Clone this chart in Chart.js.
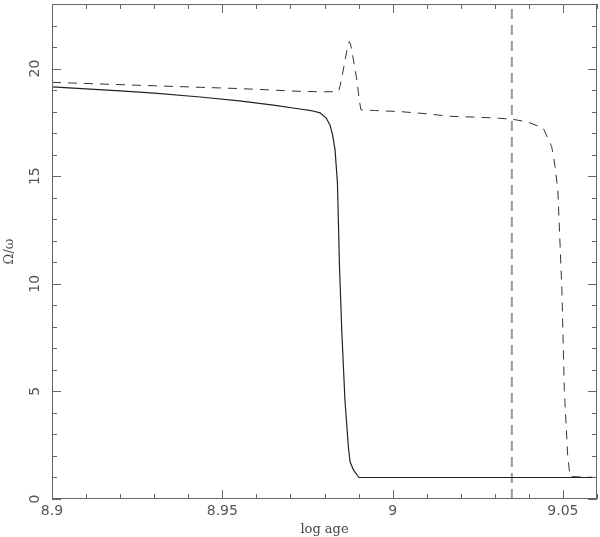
<!DOCTYPE html>
<html>
<head>
<meta charset="utf-8">
<script src="https://cdn.jsdelivr.net/npm/chart.js@4.4.0/dist/chart.umd.min.js"></script>
<style>
  html, body { margin: 0; padding: 0; background: #fff; }
</style>
</head>
<body>
<canvas id="chart" width="600" height="537"></canvas>
<script>
// solid curve: log age vs Omega/omega
let solidAge = [8.900, 8.910, 8.920, 8.930, 8.9435, 8.955, 8.965, 8.9728, 8.976, 8.9787, 8.9805, 8.9816, 8.9824, 8.9831, 8.9838, 8.9844, 8.9851, 8.9860, 8.9870, 8.9875, 8.9885, 8.9901, 9.060];
let solidOmega = [19.15, 19.06, 18.96, 18.86, 18.68, 18.50, 18.30, 18.12, 18.05, 17.94, 17.7, 17.38, 16.9, 16.22, 14.68, 10.8, 7.71, 4.6, 2.43, 1.73, 1.35, 1.0, 1.0];

// dashed curve
let dashedAge = [8.900, 8.915, 8.930, 8.9435, 8.955, 8.965, 8.9728, 8.980, 8.9841, 8.9846, 8.9855, 8.9865, 8.9869, 8.9873, 8.9877, 8.9885, 8.9895, 8.9902, 8.9907, 8.995, 9.0022, 9.010, 9.0169, 9.025, 9.0315, 9.0353, 9.0394, 9.0442, 9.0467, 9.0477, 9.0485, 9.0497, 9.0504, 9.0514, 9.0521, 9.060];
let dashedOmega = [19.36, 19.28, 19.2, 19.13, 19.07, 19.0, 18.94, 18.92, 18.93, 19.2, 19.93, 20.78, 21.1, 21.25, 21.1, 20.4, 19.47, 18.54, 18.08, 18.05, 18.0, 17.9, 17.78, 17.74, 17.69, 17.64, 17.53, 17.24, 16.37, 15.44, 14.36, 9.7, 5.1, 2.0, 1.04, 1.0];

// vertical marker
let markAge = [9.035, 9.035];
let markOmega = [0, 23];

let xTicks = [8.9, 8.95, 9, 9.05];
let xTickLabels = ['8.9', '8.95', '9', '9.05'];
let yTicks = [0, 5, 10, 15, 20];
let yTickLabels = ['0', '5', '10', '15', '20'];

function pts(xs, ys) {
  return xs.map((v, i) => ({ x: v, y: ys[i] }));
}

// box frame with inward ticks on all four sides
const frameTicks = {
  id: 'frameTicks',
  afterDraw(chart) {
    const { ctx, chartArea: a, scales: { x, y } } = chart;
    ctx.save();
    ctx.strokeStyle = '#666';
    ctx.lineWidth = 1;
    ctx.strokeRect(a.left + 0.5, a.top + 0.5, a.right - a.left - 1, a.bottom - a.top - 1);
    ctx.beginPath();
    for (let i = 0; i <= 16; i++) {
      const v = 8.9 + i * 0.01;
      const px = Math.round(x.getPixelForValue(v)) + 0.5;
      const len = xTicks.some(t => Math.abs(t - v) < 1e-6) ? 9 : 5;
      ctx.moveTo(px, a.bottom); ctx.lineTo(px, a.bottom - len);
      ctx.moveTo(px, a.top); ctx.lineTo(px, a.top + len);
    }
    for (let v = 0; v <= 23; v++) {
      const py = Math.round(y.getPixelForValue(v)) + 0.5;
      const len = v % 5 === 0 ? 9 : 5;
      ctx.moveTo(a.left, py); ctx.lineTo(a.left + len, py);
      ctx.moveTo(a.right, py); ctx.lineTo(a.right - len, py);
    }
    ctx.stroke();
    ctx.restore();
  }
};

let myChart = new Chart(document.getElementById('chart'), {
  type: 'scatter',
  data: {
    datasets: [
      {
        data: pts(solidAge, solidOmega),
        showLine: true,
        borderColor: '#222',
        borderWidth: 1.2,
        pointRadius: 0
      },
      {
        data: pts(dashedAge, dashedOmega),
        showLine: true,
        borderColor: '#333',
        borderWidth: 1,
        borderDash: [9, 7],
        pointRadius: 0
      },
      {
        data: pts(markAge, markOmega),
        showLine: true,
        borderColor: '#999',
        borderWidth: 2,
        borderDash: [10, 6],
        pointRadius: 0
      }
    ]
  },
  options: {
    responsive: false,
    animation: false,
    layout: { padding: { top: 4, right: 3, left: 0, bottom: 0 } },
    plugins: { legend: { display: false }, tooltip: { enabled: false } },
    scales: {
      x: {
        type: 'linear',
        min: 8.9,
        max: 9.06,
        grid: { display: false, drawTicks: false },
        border: { display: false },
        afterBuildTicks: s => { s.ticks = xTicks.map(v => ({ value: v })); },
        afterFit: s => { s.height = 38; s.paddingLeft = 0; s.paddingRight = 0; },
        ticks: {
          autoSkip: false,
          maxRotation: 0,
          padding: 4,
          color: '#555',
          font: { family: 'DejaVu Sans', size: 14 },
          callback: (v, i) => xTickLabels[i]
        },
        title: {
          display: true,
          text: 'log age',
          color: '#444',
          padding: { top: 0, bottom: 0 },
          font: { family: 'DejaVu Serif', size: 13 }
        }
      },
      y: {
        type: 'linear',
        min: 0,
        max: 23,
        grid: { display: false, drawTicks: false },
        border: { display: false },
        afterBuildTicks: s => { s.ticks = yTicks.map(v => ({ value: v })); },
        afterFit: s => { s.width = 52; s.paddingTop = 0; s.paddingBottom = 0; },
        ticks: {
          autoSkip: false,
          minRotation: 90,
          maxRotation: 90,
          crossAlign: 'center',
          padding: 8,
          color: '#555',
          font: { family: 'DejaVu Sans', size: 14 },
          callback: (v, i) => yTickLabels[i]
        },
        title: {
          display: true,
          text: 'Ω/ω',
          color: '#444',
          padding: { top: 2, bottom: 0 },
          font: { family: 'DejaVu Serif', size: 13 }
        }
      }
    }
  },
  plugins: [frameTicks]
});
</script>
</body>
</html>
